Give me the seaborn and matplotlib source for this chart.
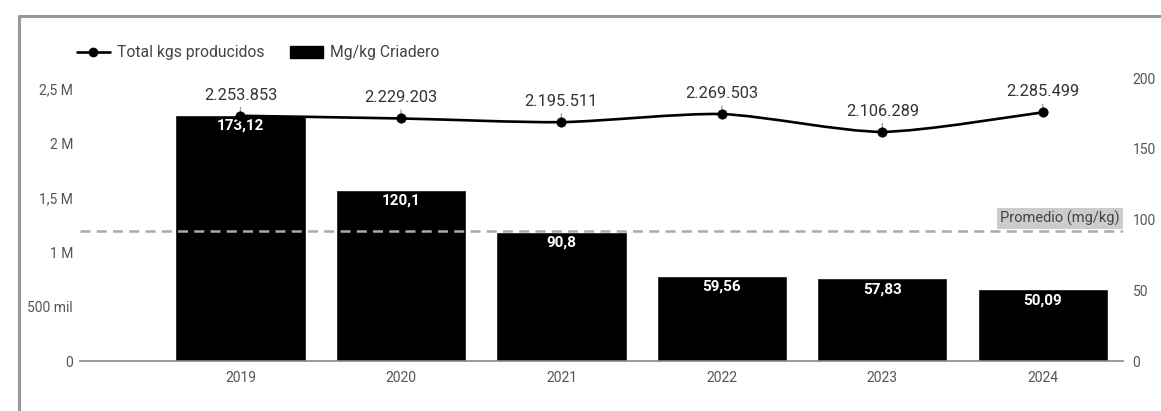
import numpy as np
import pandas as pd
import seaborn as sns
import matplotlib.pyplot as plt
from matplotlib.path import Path
from matplotlib.patches import PathPatch, Patch
from matplotlib.lines import Line2D

# Data
years = ["2019", "2020", "2021", "2022", "2023", "2024"]
mg_per_kg = [173.12, 120.1, 90.8, 59.56, 57.83, 50.09]
total_kgs = [2253853, 2229203, 2195511, 2269503, 2106289, 2285499]
left_ticks = [0, 500000, 1000000, 1500000, 2000000, 2500000]
left_tick_labels = ["0", "500 mil", "1 M", "1,5 M", "2 M", "2,5 M"]
right_ticks = [0, 50, 100, 150, 200]

sns.set_theme(style="white")
plt.rcParams["font.family"] = ["Roboto", "DejaVu Sans"]

W, H = 1161, 411
fig = plt.figure(figsize=(W / 100, H / 100), dpi=100)
fig.patch.set_facecolor("white")

ax_left, ax_right, ax_top, ax_bottom = 80, 1123, 78, 361
ax = fig.add_axes([ax_left / W, 1 - ax_bottom / H,
                   (ax_right - ax_left) / W, (ax_bottom - ax_top) / H])
ax.set_facecolor("none")

df = pd.DataFrame({"year": years, "mg": mg_per_kg, "kgs": total_kgs})
pos = np.arange(len(years))

# Bars: Mg/kg (right-hand scale)
sns.barplot(data=df, x="year", y="mg", color="black", width=0.8,
            saturation=1, edgecolor="#222222", linewidth=0.6, ax=ax, zorder=2)
ax.set_ylim(0, 200)
ax.set_xlim(-1.0, 5.5)
ax.set_xlabel("")
ax.set_ylabel("")
for s in ["top", "left", "right"]:
    ax.spines[s].set_visible(False)
ax.spines["bottom"].set_color("#888888")
ax.spines["bottom"].set_linewidth(1.2)

for x, v in zip(pos, mg_per_kg):
    ax.annotate(f"{v:g}".replace(".", ","), xy=(x, v), xytext=(0, -3),
                textcoords="offset pixels", ha="center", va="top",
                color="white", fontsize=11, fontweight="bold", zorder=4)

# Average reference line
avg = float(np.mean(mg_per_kg))
ax.axhline(avg, color="#aaaaaa", linestyle=(0, (4, 2.5)), linewidth=1.8, zorder=3)
ax.annotate("Promedio (mg/kg)", xy=(1, avg), xycoords=("axes fraction", "data"),
            xytext=(-3, 5), textcoords="offset pixels", ha="right", va="bottom",
            color="#444444", fontsize=10.5,
            bbox=dict(boxstyle="square,pad=0.2", fc="#cccccc", ec="none"), zorder=5)

# Line: total kgs (left-hand scale)
ax2 = ax.twinx()
ax2.set_xlim(-1.0, 5.5)
ax2.set_ylim(0, 2.5e6 * (ax_bottom - ax_top) / (ax_bottom - 89))
for s in ax2.spines.values():
    s.set_visible(False)

# Right-hand ticks belong to the bars, left-hand ticks to the line
ax.yaxis.tick_right()
ax.set_yticks(right_ticks)
ax.set_yticklabels([str(t) for t in right_ticks])
ax.tick_params(axis="y", length=0, pad=7, labelsize=10, labelcolor="#555555",
               left=False, labelleft=False, right=True, labelright=True)
ax.tick_params(axis="x", length=0, pad=7, labelsize=10, labelcolor="#555555")

ax2.yaxis.tick_left()
ax2.set_yticks(left_ticks)
ax2.set_yticklabels(left_tick_labels)
ax2.tick_params(axis="y", length=0, pad=5, labelsize=10, labelcolor="#555555",
                left=True, labelleft=True, right=False, labelright=False)

# Smooth curve through the points (cardinal spline as cubic Bezier)
pts = np.column_stack([pos, np.array(total_kgs, dtype=float)])
ext = np.vstack([pts[0], pts, pts[-1]])
verts = [tuple(pts[0])]
codes = [Path.MOVETO]
for i in range(1, len(ext) - 2):
    p0, p1, p2, p3 = ext[i - 1], ext[i], ext[i + 1], ext[i + 2]
    c1 = p1 + (p2 - p0) / 8
    c2 = p2 - (p3 - p1) / 8
    verts += [tuple(c1), tuple(c2), tuple(p2)]
    codes += [Path.CURVE4] * 3
ax2.add_patch(PathPatch(Path(verts, codes), fill=False, edgecolor="black",
                        linewidth=1.9, zorder=5))
sns.scatterplot(x=pos, y=total_kgs, color="black", s=45, ax=ax2,
                edgecolor="black", zorder=6, legend=False)

for x, v in zip(pos, total_kgs):
    ax2.annotate(f"{v:,}".replace(",", "."), xy=(x, v), xytext=(0, 13),
                 textcoords="offset pixels", ha="center", va="bottom",
                 color="#333333", fontsize=11.8,
                 arrowprops=dict(arrowstyle="-", color="#999999", lw=0.9,
                                 shrinkA=1, shrinkB=2))

# Legend
handles = [
    Line2D([0], [0], color="black", lw=1.9, marker="o", markersize=6),
    Patch(facecolor="black", edgecolor="black"),
]
fig.legend(handles, ["Total kgs producidos", "Mg/kg Criadero"],
           loc="center left", bbox_to_anchor=(77 / W, 1 - 53 / H),
           ncol=2, frameon=False, fontsize=11.3, labelcolor="#444444",
           handlelength=2.1, handleheight=0.85, handletextpad=0.45,
           columnspacing=1.6, borderpad=0, borderaxespad=0)

# Outer frame
frame_kw = dict(color="#999999", linewidth=2.2, transform=fig.transFigure)
fig.add_artist(Line2D([19 / W, 19 / W], [0, 1 - 16 / H], **frame_kw))
fig.add_artist(Line2D([19 / W, 1], [1 - 16 / H, 1 - 16 / H], **frame_kw))

fig.savefig("out.png", dpi=100, facecolor="white")
